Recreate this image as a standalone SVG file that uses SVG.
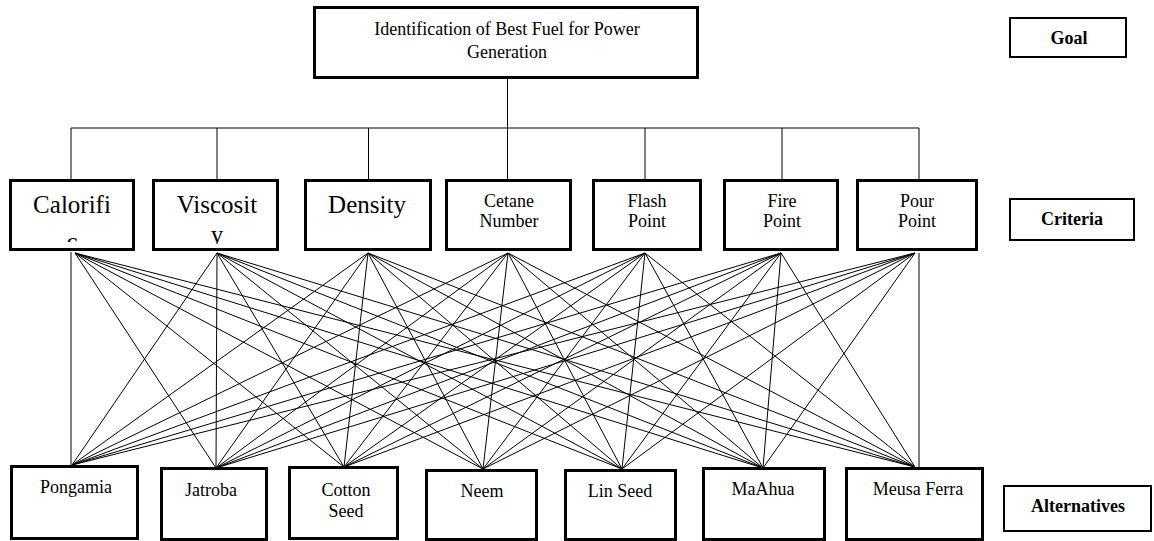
<svg xmlns="http://www.w3.org/2000/svg" width="1154" height="541" viewBox="0 0 1154 541">
<style>
.box{fill:#fff;stroke:#000;stroke-width:3}
.lbl{fill:#fff;stroke:#000;stroke-width:2}
.t{font-family:'Liberation Serif','Times New Roman','DejaVu Serif','Noto Serif',serif;font-size:18px;fill:#000;text-anchor:middle}
.big{font-size:25px}
.b{font-weight:bold}
.c line,.c path{stroke:#000;stroke-width:1;fill:none}
</style>
<defs>
<clipPath id="clipCal"><rect x="12" y="182" width="120" height="60"/></clipPath>
<clipPath id="clipVis"><rect x="155" y="182" width="121" height="62"/></clipPath>
</defs>
<rect width="1154" height="541" fill="#fff"/>
<g id="connectors" class="c">
<path d="M507.5 79V128M71 128H919M71 128V180M217 128V180M368.5 128V180M507.5 128V180M645 128V180M782 128V180M919 128V180"/>
<line x1="71" y1="252" x2="71" y2="465"/>
<line x1="75" y1="253" x2="216" y2="468"/>
<line x1="75" y1="253" x2="344" y2="467"/>
<line x1="75" y1="253" x2="483" y2="469"/>
<line x1="75" y1="253" x2="622" y2="469"/>
<line x1="75" y1="253" x2="763" y2="468"/>
<line x1="75" y1="253" x2="915" y2="467"/>
<line x1="217" y1="253" x2="72" y2="465"/>
<line x1="217" y1="253" x2="216" y2="468"/>
<line x1="217" y1="253" x2="344" y2="467"/>
<line x1="217" y1="253" x2="483" y2="469"/>
<line x1="217" y1="253" x2="622" y2="469"/>
<line x1="217" y1="253" x2="763" y2="468"/>
<line x1="217" y1="253" x2="915" y2="467"/>
<line x1="368" y1="253" x2="72" y2="465"/>
<line x1="368" y1="253" x2="216" y2="468"/>
<line x1="368" y1="253" x2="344" y2="467"/>
<line x1="368" y1="253" x2="483" y2="469"/>
<line x1="368" y1="253" x2="622" y2="469"/>
<line x1="368" y1="253" x2="763" y2="468"/>
<line x1="368" y1="253" x2="915" y2="467"/>
<line x1="508" y1="253" x2="72" y2="465"/>
<line x1="508" y1="253" x2="216" y2="468"/>
<line x1="508" y1="253" x2="344" y2="467"/>
<line x1="508" y1="253" x2="483" y2="469"/>
<line x1="508" y1="253" x2="622" y2="469"/>
<line x1="508" y1="253" x2="763" y2="468"/>
<line x1="508" y1="253" x2="915" y2="467"/>
<line x1="645" y1="253" x2="72" y2="465"/>
<line x1="645" y1="253" x2="216" y2="468"/>
<line x1="645" y1="253" x2="344" y2="467"/>
<line x1="645" y1="253" x2="483" y2="469"/>
<line x1="645" y1="253" x2="622" y2="469"/>
<line x1="645" y1="253" x2="763" y2="468"/>
<line x1="645" y1="253" x2="915" y2="467"/>
<line x1="781" y1="253" x2="72" y2="465"/>
<line x1="781" y1="253" x2="216" y2="468"/>
<line x1="781" y1="253" x2="344" y2="467"/>
<line x1="781" y1="253" x2="483" y2="469"/>
<line x1="781" y1="253" x2="622" y2="469"/>
<line x1="781" y1="253" x2="763" y2="468"/>
<line x1="781" y1="253" x2="915" y2="467"/>
<line x1="915" y1="253" x2="72" y2="465"/>
<line x1="915" y1="253" x2="216" y2="468"/>
<line x1="915" y1="253" x2="344" y2="467"/>
<line x1="915" y1="253" x2="483" y2="469"/>
<line x1="915" y1="253" x2="622" y2="469"/>
<line x1="915" y1="253" x2="763" y2="468"/>
<line x1="919" y1="253" x2="919" y2="467"/>
</g>
<g id="goal">
<rect class="box" x="314.5" y="7.5" width="383" height="70"/>
<text class="t" x="507" y="35">Identification of Best Fuel for Power</text>
<text class="t" x="507" y="58">Generation</text>
</g>
<g id="crit-calorific">
<rect class="box" x="10.5" y="180.5" width="123" height="69"/>
<g clip-path="url(#clipCal)">
<text class="t big" x="72" y="213">Calorifi</text>
<text class="t big" x="72" y="250">c</text>
</g>
</g>
<g id="crit-viscosity">
<rect class="box" x="153.5" y="180.5" width="124" height="69"/>
<g clip-path="url(#clipVis)">
<text class="t big" x="217" y="213">Viscosit</text>
<text class="t big" x="217" y="243">y</text>
</g>
</g>
<g id="crit-density">
<rect class="box" x="305.5" y="180.5" width="125" height="69"/>
<text class="t big" x="367" y="213">Density</text>
</g>
<g id="crit-cetane">
<rect class="box" x="446.5" y="180.5" width="124" height="69"/>
<text class="t" x="509" y="207">Cetane</text>
<text class="t" x="509" y="227">Number</text>
</g>
<g id="crit-flash">
<rect class="box" x="593.5" y="180.5" width="107" height="69"/>
<text class="t" x="647" y="207">Flash</text>
<text class="t" x="647" y="227">Point</text>
</g>
<g id="crit-fire">
<rect class="box" x="724.5" y="180.5" width="113" height="69"/>
<text class="t" x="782" y="207">Fire</text>
<text class="t" x="782" y="227">Point</text>
</g>
<g id="crit-pour">
<rect class="box" x="857.5" y="180.5" width="119" height="69"/>
<text class="t" x="917" y="207">Pour</text>
<text class="t" x="917" y="227">Point</text>
</g>
<g id="alt-pongamia">
<rect class="box" x="11.5" y="466.5" width="126" height="72"/>
<text class="t" x="76" y="493">Pongamia</text>
</g>
<g id="alt-jatroba">
<rect class="box" x="161.5" y="468.5" width="105" height="71"/>
<text class="t" x="211" y="496">Jatroba</text>
</g>
<g id="alt-cotton">
<rect class="box" x="289.5" y="467.5" width="108" height="71"/>
<text class="t" x="346" y="496">Cotton</text>
<text class="t" x="346" y="517">Seed</text>
</g>
<g id="alt-neem">
<rect class="box" x="426.5" y="470.5" width="110" height="69"/>
<text class="t" x="482" y="497">Neem</text>
</g>
<g id="alt-linseed">
<rect class="box" x="565.5" y="470.5" width="110" height="69"/>
<text class="t" x="620" y="497">Lin Seed</text>
</g>
<g id="alt-maahua">
<rect class="box" x="703.5" y="468.5" width="121" height="71"/>
<text class="t" x="763" y="495">MaAhua</text>
</g>
<g id="alt-meusaferra">
<rect class="box" x="846.5" y="468.5" width="136" height="71"/>
<text class="t" x="918" y="495">Meusa Ferra</text>
</g>
<g id="label-goal">
<rect class="lbl" x="1010" y="18" width="116" height="39"/>
<text class="t b" x="1069" y="44">Goal</text>
</g>
<g id="label-criteria">
<rect class="lbl" x="1010" y="199" width="124" height="41"/>
<text class="t b" x="1072" y="225">Criteria</text>
</g>
<g id="label-alternatives">
<rect class="lbl" x="1004" y="486" width="147" height="45"/>
<text class="t b" x="1078" y="512">Alternatives</text>
</g>
</svg>
